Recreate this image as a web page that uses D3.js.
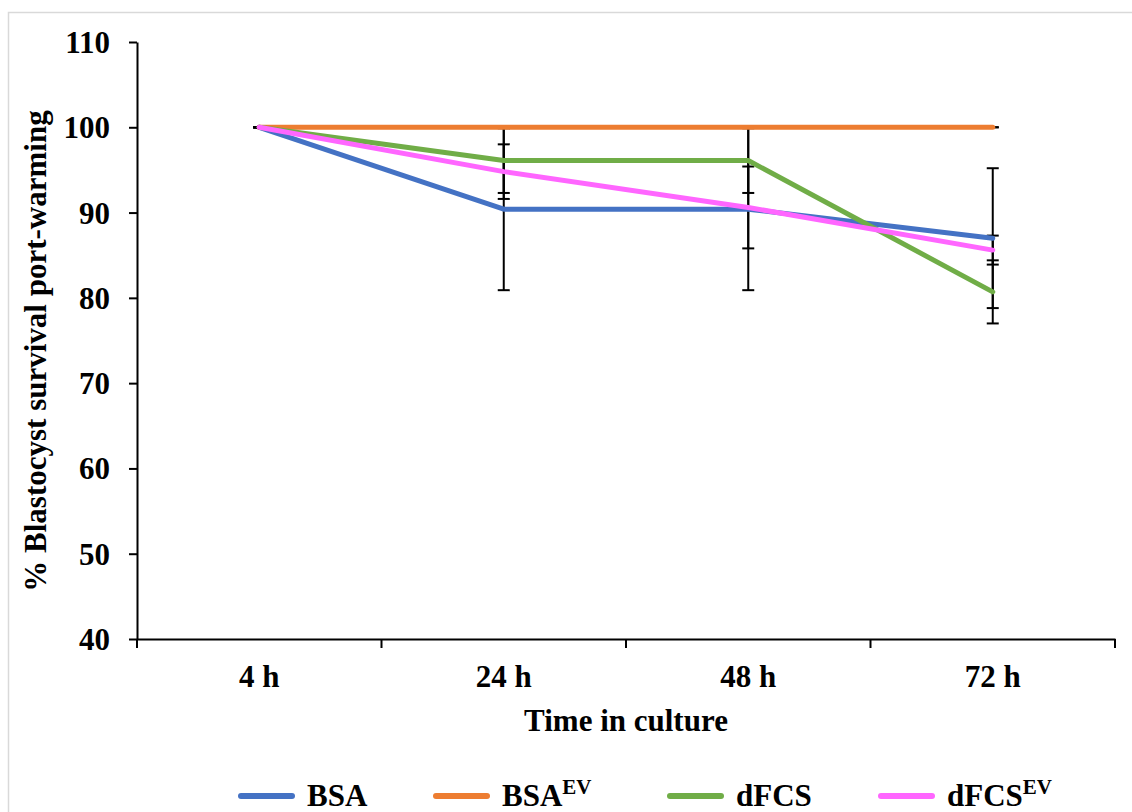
<!DOCTYPE html>
<html>
<head>
<meta charset="utf-8">
<script src="https://cdn.jsdelivr.net/npm/d3@7"></script>
<style>
    body { margin: 0; background: #fff; }
    svg text { font-family: "Liberation Serif", "Times New Roman", serif; font-weight: bold; fill: #000; }
</style>
</head>
<body>
<script>
// data
var categories = ['4 h', '24 h', '48 h', '72 h'];
var seriesNames = ['BSA', 'BSAEV', 'dFCS', 'dFCSEV'];
var bsaValues     = [100, 90.4, 90.4, 87.0];
var bsaEvValues   = [100, 100, 100, 100];
var dfcsValues    = [100, 96.1, 96.1, 80.7];
var dfcsEvValues  = [100, 94.8, 90.6, 85.6];
var bsaErr    = [0, 9.5, 9.5, 8.2];
var bsaEvErr  = [0, 0, 0, 0];
var dfcsErr   = [0, 3.8, 3.8, 3.7];
var dfcsEvErr = [0, 3.2, 4.8, 1.7];
var yTicks = [40, 50, 60, 70, 80, 90, 100, 110];

// init
var width  = 1132,
    height = 812,
    margin = { top: 42, right: 17, bottom: 173, left: 137 },
    colors = ['#4472C4', '#ED7D31', '#70AD47', '#FF66FF'],
    fontSize = 31;

var series = [
    { name: 'BSA',    sup: '',   values: bsaValues,    err: bsaErr },
    { name: 'BSA',    sup: 'EV', values: bsaEvValues,  err: bsaEvErr },
    { name: 'dFCS',   sup: '',   values: dfcsValues,   err: dfcsErr },
    { name: 'dFCS',   sup: 'EV', values: dfcsEvValues, err: dfcsEvErr }
];

var xScale = d3.scaleBand()
    .domain(categories)
    .range([margin.left, width - margin.right]);

var yScale = d3.scaleLinear()
    .domain([40, 110])
    .range([height - margin.bottom, margin.top]);

var svg = d3.select('body')
    .append('svg')
    .attr('width', width)
    .attr('height', height);

// chart frame
svg.append('rect')
    .attr('x', 8.5)
    .attr('y', 12.5)
    .attr('width', width)
    .attr('height', height)
    .attr('fill', 'none')
    .attr('stroke', '#d9d9d9')
    .attr('stroke-width', 1.5);

var xc = function (i) { return xScale(categories[i]) + xScale.bandwidth() / 2; };

/**
 * draw y-axis
 */
function drawYAxis() {
    var y_axis = d3.axisLeft(yScale)
        .tickValues(yTicks)
        .tickSize(8)
        .tickSizeOuter(0)
        .tickPadding(19);
    var g = svg.append('g')
        .attr('transform', 'translate(' + margin.left + ',0)')
        .call(y_axis);
    g.select('.domain').attr('stroke-width', 2);
    g.selectAll('.tick line').attr('stroke-width', 2);
    g.selectAll('.tick text')
        .style('font-size', fontSize + 'px')
        .attr('dy', '0.34em');
}

/**
 * draw x-axis (ticks between categories)
 */
function drawXAxis() {
    var y0 = yScale(40);
    var x_axis = d3.axisBottom(xScale)
        .tickSize(0)
        .tickSizeOuter(0)
        .tickPadding(26);
    var g = svg.append('g')
        .attr('transform', 'translate(0,' + y0 + ')')
        .call(x_axis);
    g.select('.domain').attr('stroke-width', 2);
    g.selectAll('.tick text').style('font-size', fontSize + 'px');

    var bounds = categories.map(function (d) { return xScale(d); }).concat([xScale.range()[1]]);
    g.append('g')
        .selectAll('line')
        .data(bounds)
        .join('line')
        .attr('x1', function (d) { return d; })
        .attr('x2', function (d) { return d; })
        .attr('y1', 0)
        .attr('y2', 9)
        .attr('stroke', '#000')
        .attr('stroke-width', 2);
}

/**
 * draw error bars
 */
function drawErrorBars() {
    var g = svg.append('g');
    series.forEach(function (s) {
        s.values.forEach(function (v, i) {
            var x = xc(i), lo = yScale(v - s.err[i]), hi = yScale(v + s.err[i]);
            g.append('line')
                .attr('x1', x).attr('x2', x).attr('y1', lo).attr('y2', hi)
                .attr('stroke', '#000').attr('stroke-width', 2);
            [lo, hi].forEach(function (yy) {
                g.append('line')
                    .attr('x1', x - 6).attr('x2', x + 6).attr('y1', yy).attr('y2', yy)
                    .attr('stroke', '#000').attr('stroke-width', 2);
            });
        });
    });
}

/**
 * draw series lines
 */
function drawLines() {
    var line = d3.line()
        .x(function (d, i) { return xc(i); })
        .y(function (d) { return yScale(d); });
    svg.append('g')
        .selectAll('path')
        .data(series)
        .join('path')
        .attr('d', function (d) { return line(d.values); })
        .attr('fill', 'none')
        .attr('stroke', function (d, i) { return colors[i]; })
        .attr('stroke-width', 5)
        .attr('stroke-linecap', 'round')
        .attr('stroke-linejoin', 'round');
}

/**
 * draw axis titles
 */
function drawTitles() {
    svg.append('text')
        .attr('x', 626)
        .attr('y', 731)
        .attr('text-anchor', 'middle')
        .style('font-size', fontSize + 'px')
        .text('Time in culture');
    svg.append('text')
        .attr('transform', 'translate(46,351) rotate(-90)')
        .attr('text-anchor', 'middle')
        .style('font-size', fontSize + 'px')
        .text('% Blastocyst survival port-warming');
}

/**
 * draw legend
 */
function drawLegend() {
    var swatchX = [238, 433, 667, 878];
    var ly = 796;
    var g = svg.append('g');
    series.forEach(function (s, i) {
        g.append('line')
            .attr('x1', swatchX[i] + 3).attr('x2', swatchX[i] + 54)
            .attr('y1', ly).attr('y2', ly)
            .attr('stroke', colors[i]).attr('stroke-width', 6)
            .attr('stroke-linecap', 'round');
        var t = g.append('text')
            .attr('x', swatchX[i] + 69)
            .attr('y', 806)
            .style('font-size', fontSize + 'px');
        t.append('tspan').text(s.name);
        if (s.sup) {
            t.append('tspan')
                .attr('dy', -12)
                .style('font-size', '21px')
                .text(s.sup);
        }
    });
}

function draw() {
    drawYAxis();
    drawXAxis();
    drawErrorBars();
    drawLines();
    drawTitles();
    drawLegend();
}

draw();
</script>
</body>
</html>
